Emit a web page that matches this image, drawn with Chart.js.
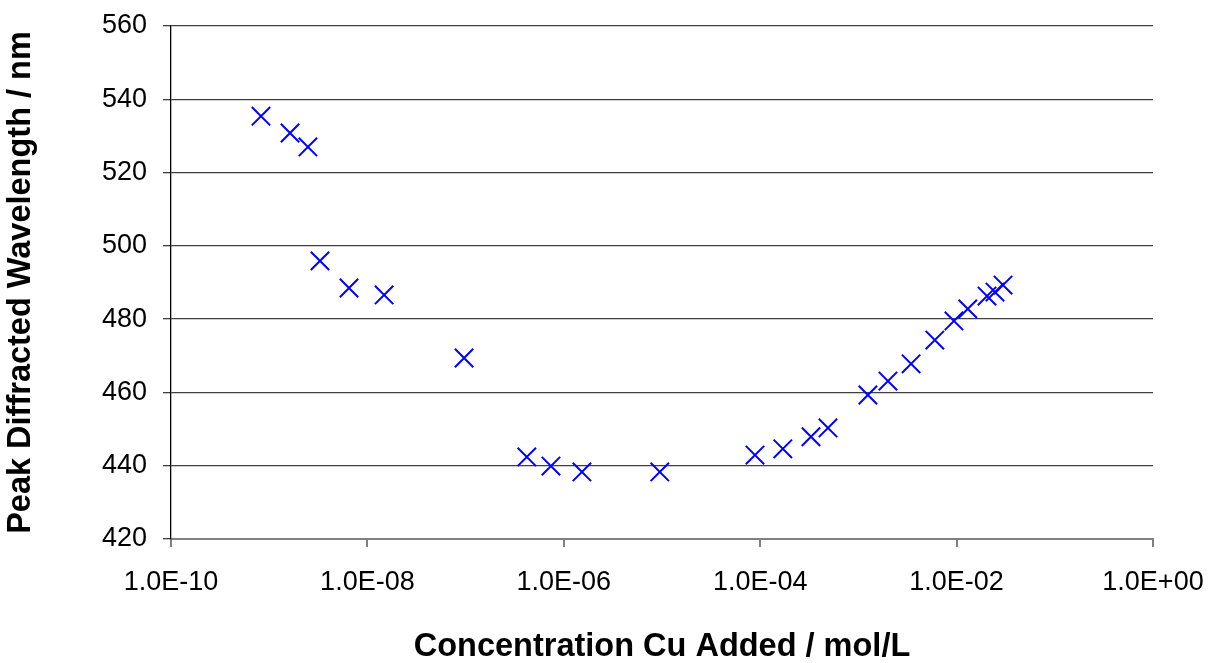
<!DOCTYPE html>
<html>
<head>
<meta charset="utf-8">
<script src="https://cdn.jsdelivr.net/npm/chart.js@4.4.0/dist/chart.umd.min.js"></script>
<style>
  html, body { margin: 0; padding: 0; background: #ffffff; }
  #wrap { width: 1209px; height: 663px; position: relative; }
</style>
</head>
<body>
<div id="wrap"><canvas id="c" width="1209" height="663"></canvas></div>
<script>
// Concentration of Cu added (mol/L)
const concentration = [
  8.25e-10, 1.63e-9, 2.48e-9, 3.29e-9, 6.5e-9, 1.48e-8, 9.65e-8,
  4.2e-7, 7.4e-7, 1.53e-6, 9.5e-6,
  8.85e-5, 1.7e-4, 3.29e-4, 4.9e-4,
  1.25e-3, 2.0e-3, 3.44e-3, 6.0e-3, 9.4e-3, 1.3e-2, 2.04e-2, 2.46e-2, 2.97e-2
];
// Peak diffracted wavelength (nm)
const wavelength = [
  535.4, 530.8, 527.0, 495.9, 488.5, 486.6, 469.4,
  442.4, 439.9, 438.3, 438.3,
  442.9, 444.6, 447.9, 450.3,
  459.3, 463.1, 467.8, 474.3, 479.5, 482.8, 486.3, 487.4, 489.3
];
const xTickValues = [1e-10, 1e-8, 1e-6, 1e-4, 1e-2, 1e0];
const xTickLabels = ["1.0E-10", "1.0E-08", "1.0E-06", "1.0E-04", "1.0E-02", "1.0E+00"];
const yTickValues = [420, 440, 460, 480, 500, 520, 540, 560];

const points = concentration.map((x, i) => ({ x: x, y: wavelength[i] }));
const FONT = "'Liberation Sans', Arial, sans-serif";

new Chart(document.getElementById('c'), {
  type: 'scatter',
  data: {
    datasets: [{
      data: points,
      pointStyle: 'crossRot',
      pointRadius: 13,
      pointHoverRadius: 13,
      borderColor: '#0000ff',
      backgroundColor: '#0000ff',
      borderWidth: 2,
      showLine: false
    }]
  },
  options: {
    responsive: false,
    animation: false,
    devicePixelRatio: 1,
    layout: { padding: { left: 0, right: 56, top: 26, bottom: 0 } },
    plugins: { legend: { display: false }, tooltip: { enabled: false } },
    scales: {
      x: {
        type: 'logarithmic',
        min: 1e-10,
        max: 1,
        afterBuildTicks: (s) => { s.ticks = xTickValues.map(v => ({ value: v })); },
        afterFit: (s) => { s.height = 124; s.paddingLeft = 0; s.paddingRight = 0; },
        ticks: {
          callback: (v) => { const i = xTickValues.indexOf(v); return i >= 0 ? xTickLabels[i] : ''; },
          font: { family: FONT, size: 27 },
          color: '#000000',
          maxRotation: 0,
          autoSkip: false,
          padding: 19
        },
        grid: { drawOnChartArea: false, drawTicks: true, tickLength: 8, color: '#808080', lineWidth: 2 },
        border: { display: true, color: '#808080', width: 2 },
        title: {
          display: true,
          text: 'Concentration Cu Added / mol/L',
          font: { family: FONT, size: 32.5, weight: 'bold', lineHeight: 1 },
          color: '#000000',
          padding: { top: 0, bottom: 0 }
        }
      },
      y: {
        min: 420,
        max: 560,
        afterBuildTicks: (s) => { s.ticks = yTickValues.map(v => ({ value: v })); },
        afterFit: (s) => { s.width = 171; s.paddingTop = 0; s.paddingBottom = 0; },
        ticks: {
          font: { family: FONT, size: 27 },
          color: '#000000',
          padding: 16
        },
        grid: { color: '#404040', lineWidth: 1.3, tickLength: 8, drawTicks: true },
        border: { display: true, color: '#000000', width: 1.3 },
        title: {
          display: true,
          text: 'Peak Diffracted Wavelength / nm',
          font: { family: FONT, size: 32.5, weight: 'bold', lineHeight: 1 },
          color: '#000000',
          padding: { top: 5, bottom: 0 }
        }
      }
    }
  }
});
</script>
</body>
</html>
